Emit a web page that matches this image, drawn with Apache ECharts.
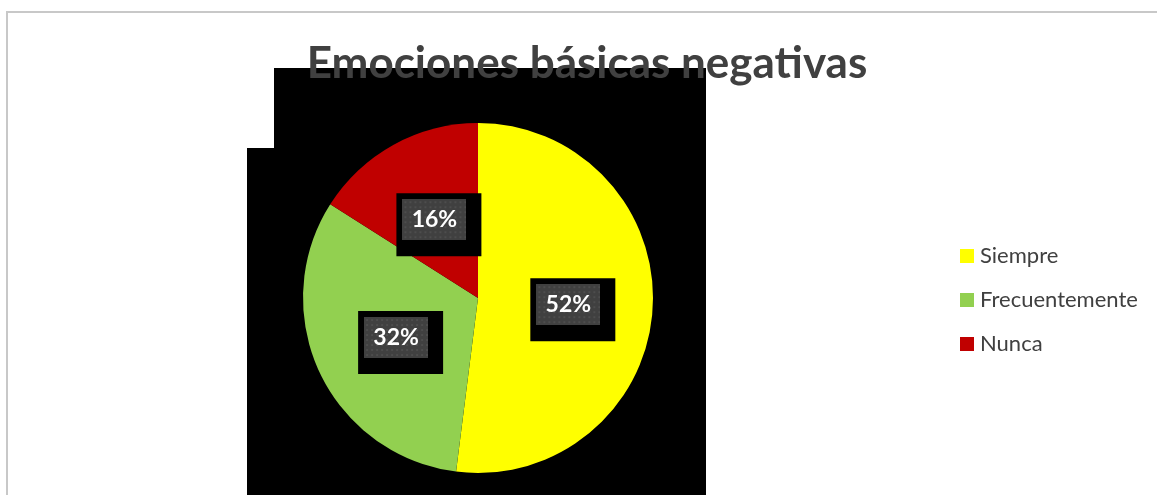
<!DOCTYPE html>
<html>
<head>
<meta charset="utf-8">
<style>
  html, body { margin: 0; padding: 0; background: #fff; }
  #chart { width: 1157px; height: 495px; }
</style>
<script src="https://cdn.jsdelivr.net/npm/echarts@6/dist/echarts.min.js"></script>
</head>
<body>
<div id="chart"></div>
<script>
// Survey answers and their shares
const categories = ['Siempre', 'Frecuentemente', 'Nunca'];
const percentages = [52, 32, 16];
const sliceColors = ['#FFFF00', '#92D050', '#C00000'];
const chartTitle = 'Emociones básicas negativas';

const FONT = 'Lato, "Open Sans", sans-serif';

// Dotted dark tile used behind each data label
function dottedTile(w, h) {
  const c = document.createElement('canvas');
  c.width = w; c.height = h;
  const g = c.getContext('2d');
  g.fillStyle = '#404040';
  g.fillRect(0, 0, w, h);
  g.fillStyle = '#4d4d4d';
  for (let y = 2; y < h; y += 5) {
    for (let x = 2; x < w; x += 5) g.fillRect(x, y, 2, 2);
  }
  return c;
}
const tile = dottedTile(64, 41);

const pieData = categories.map((name, i) => ({
  name, value: percentages[i], itemStyle: { color: sliceColors[i] }
}));
const ghostData = categories.map((name, i) => ({ name, value: percentages[i] }));

const pieCenter = [478, 298];
const pieRadius = 175;

const chart = echarts.init(document.getElementById('chart'), null, { renderer: 'canvas' });
chart.setOption({
  animation: false,
  backgroundColor: '#ffffff',
  title: {
    text: chartTitle,
    left: 582, top: 37, textAlign: 'center',
    z: 10,
    textStyle: { fontFamily: FONT, fontWeight: 'bold', fontSize: 44, color: '#404040' }
  },
  legend: {
    orient: 'vertical',
    left: 955, top: 240,
    itemWidth: 14, itemHeight: 14, itemGap: 22,
    icon: 'rect',
    data: categories.map((name, i) => ({ name, itemStyle: { color: sliceColors[i] } })),
    textStyle: { fontFamily: FONT, fontSize: 22, color: '#404040', padding: [0, 0, 0, 1] }
  },
  graphic: [
    {
      type: 'polyline', z: 0, silent: true,
      shape: { points: [[7, 495], [7, 12], [1157, 12]] },
      style: { stroke: '#c8c8c8', lineWidth: 2, fill: null }
    },
    {
      type: 'polygon', z: 1, silent: true,
      shape: { points: [[274, 68], [706, 68], [706, 495], [247, 495], [247, 148], [274, 148]] },
      style: { fill: '#000' }
    }
  ],
  series: [
    {
      // visible slices
      type: 'pie', z: 2,
      center: pieCenter, radius: pieRadius,
      startAngle: 90, clockwise: true,
      data: pieData,
      label: { show: false }, labelLine: { show: false },
      itemStyle: { borderWidth: 0 },
      emphasis: { disabled: true }
    },
    {
      // percentage labels in black frames
      type: 'pie', z: 3, silent: true,
      center: [pieCenter[0] + 4.5, pieCenter[1] + 6], radius: pieRadius,
      startAngle: 90, clockwise: true,
      data: ghostData,
      legendHoverLink: false,
      avoidLabelOverlap: false,
      itemStyle: { color: 'rgba(0,0,0,0)' },
      label: {
        show: true, position: 'inside',
        formatter: p => '{v|' + p.value + '%}',
        backgroundColor: '#000',
        padding: [6, 15, 16, 6],
        rich: {
          v: {
            backgroundColor: { image: tile },
            width: 64, height: 41, lineHeight: 41,
            align: 'center', verticalAlign: 'middle',
            color: '#ffffff', fontFamily: FONT, fontWeight: 'bold', fontSize: 23
          }
        }
      },
      labelLine: { show: false },
      emphasis: { disabled: true }
    }
  ]
});
</script>
</body>
</html>
